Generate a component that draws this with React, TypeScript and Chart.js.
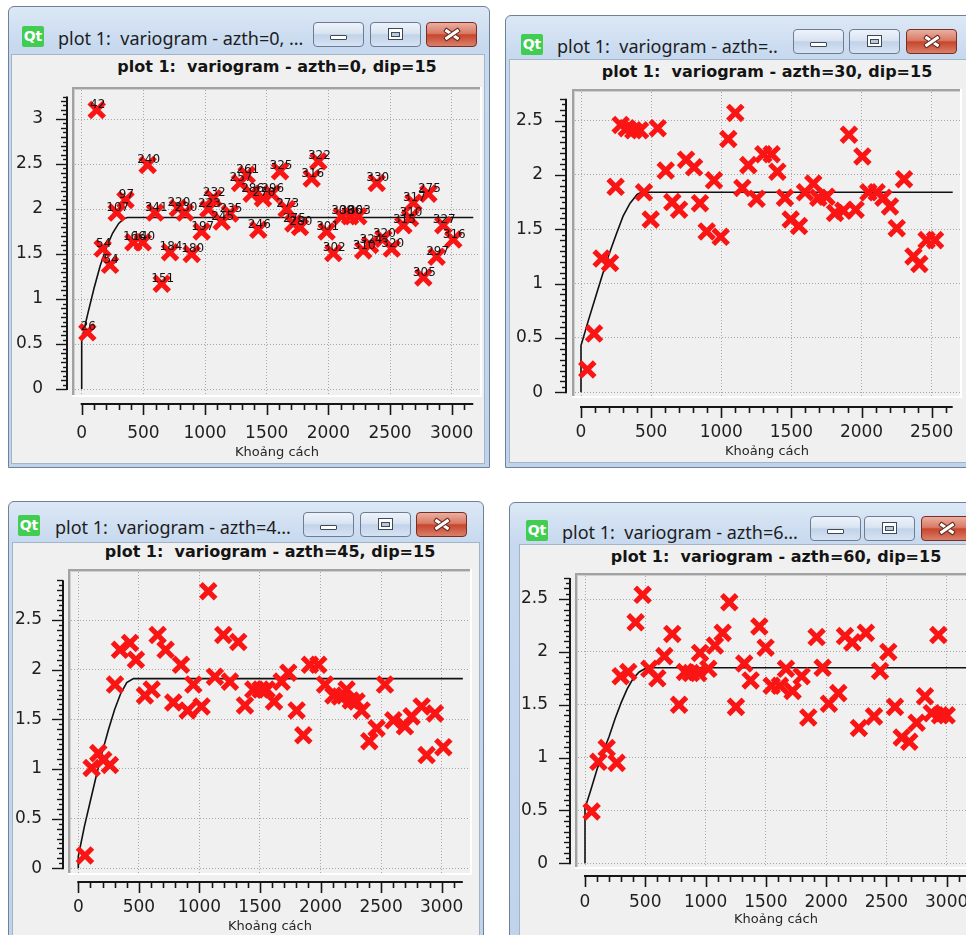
import React, { useEffect, useRef } from 'react';
import { Chart, registerables } from 'chart.js';

Chart.register(...registerables);

// ---------------- DATA ----------------
const X_TICKS_3000 = [0, 500, 1000, 1500, 2000, 2500, 3000];
const X_TICKS_2500 = [0, 500, 1000, 1500, 2000, 2500];
const Y_TICKS_3 = [0, 0.5, 1, 1.5, 2, 2.5, 3];
const Y_TICKS_25 = [0, 0.5, 1, 1.5, 2, 2.5];

// azth = 0
const AZ0_DIST = [46, 122, 170, 230, 284, 355, 419, 495, 535, 595, 649, 716, 780, 838, 892, 973, 1027, 1067, 1135, 1202, 1284, 1338, 1378, 1432, 1470, 1541, 1608, 1662, 1716, 1770, 1865, 1919, 1986, 2040, 2108, 2176, 2243, 2283, 2338, 2392, 2446, 2514, 2608, 2662, 2689, 2770, 2811, 2878, 2932, 3013];
const AZ0_GAMMA = [0.63, 3.10, 1.56, 1.38, 1.96, 2.10, 1.63, 1.63, 2.49, 1.96, 1.17, 1.52, 2.01, 1.96, 1.50, 1.75, 2.00, 2.12, 1.86, 1.95, 2.29, 2.38, 2.17, 1.77, 2.12, 2.17, 2.42, 2.00, 1.84, 1.80, 2.34, 2.53, 1.75, 1.51, 1.92, 1.92, 1.92, 1.54, 1.60, 2.29, 1.67, 1.56, 1.82, 1.90, 2.07, 1.24, 2.17, 1.47, 1.82, 1.66];
const AZ0_PAIRS = ['26', '42', '54', '54', '107', '97', '166', '140', '240', '341', '151', '184', '220', '230', '180', '197', '223', '232', '245', '235', '257', '261', '286', '246', '270', '296', '325', '273', '275', '280', '316', '322', '301', '302', '308', '306', '303', '310', '324', '330', '320', '320', '315', '310', '317', '305', '275', '297', '327', '316'];
const AZ0_MODEL_DIST = [0, 0, 50, 100, 150, 200, 250, 300, 340, 370, 3175];
const AZ0_MODEL_GAMMA = [0, 0.55, 0.84, 1.12, 1.37, 1.57, 1.73, 1.84, 1.89, 1.905, 1.905];

// azth = 30
const AZ30_DIST = [45, 93, 147, 207, 247, 283, 326, 373, 421, 449, 497, 547, 604, 651, 699, 749, 806, 848, 896, 948, 996, 1050, 1100, 1150, 1193, 1252, 1300, 1359, 1400, 1454, 1495, 1554, 1597, 1656, 1692, 1750, 1811, 1870, 1910, 1958, 2006, 2049, 2108, 2156, 2203, 2251, 2303, 2370, 2412, 2464, 2524];
const AZ30_GAMMA = [0.21, 0.54, 1.23, 1.19, 1.89, 2.46, 2.43, 2.41, 2.41, 1.84, 1.59, 2.43, 2.04, 1.75, 1.68, 2.14, 2.07, 1.74, 1.48, 1.95, 1.43, 2.33, 2.57, 1.88, 2.09, 1.78, 2.19, 2.19, 2.03, 1.79, 1.59, 1.53, 1.84, 1.92, 1.79, 1.80, 1.65, 1.67, 2.37, 1.68, 2.17, 1.84, 1.84, 1.79, 1.71, 1.51, 1.96, 1.25, 1.18, 1.40, 1.40];
const AZ30_MODEL_DIST = [0, 0, 50, 100, 150, 200, 250, 300, 350, 400, 430, 2650];
const AZ30_MODEL_GAMMA = [0, 0.43, 0.65, 0.86, 1.07, 1.27, 1.45, 1.62, 1.74, 1.82, 1.84, 1.84];

// azth = 45
const AZ45_DIST = [55, 110, 165, 206, 261, 303, 344, 427, 476, 550, 606, 655, 721, 784, 848, 903, 950, 1018, 1073, 1128, 1197, 1252, 1321, 1376, 1445, 1506, 1555, 1616, 1679, 1734, 1803, 1858, 1913, 1982, 2037, 2106, 2161, 2215, 2250, 2298, 2340, 2403, 2463, 2532, 2601, 2697, 2752, 2835, 2876, 2945, 3014];
const AZ45_GAMMA = [0.13, 1.01, 1.16, 1.09, 1.04, 1.85, 2.20, 2.27, 2.10, 1.74, 1.80, 2.35, 2.20, 1.67, 2.05, 1.59, 1.85, 1.63, 2.79, 1.93, 2.35, 1.88, 2.28, 1.64, 1.80, 1.80, 1.80, 1.68, 1.88, 1.97, 1.59, 1.34, 2.05, 2.05, 1.85, 1.74, 1.73, 1.80, 1.69, 1.68, 1.59, 1.28, 1.41, 1.85, 1.49, 1.43, 1.53, 1.63, 1.14, 1.56, 1.22];
const AZ45_MODEL_DIST = [0, 0, 50, 100, 150, 200, 250, 300, 350, 400, 455, 3175];
const AZ45_MODEL_GAMMA = [0, 0.12, 0.42, 0.68, 0.94, 1.18, 1.40, 1.60, 1.76, 1.87, 1.91, 1.91];

// azth = 60
const AZ60_DIST = [55, 111, 180, 263, 296, 359, 420, 478, 534, 600, 658, 724, 780, 829, 879, 940, 954, 1023, 1078, 1142, 1197, 1252, 1321, 1374, 1446, 1498, 1548, 1617, 1667, 1722, 1797, 1852, 1921, 1971, 2023, 2101, 2156, 2217, 2272, 2330, 2397, 2447, 2516, 2571, 2627, 2690, 2751, 2820, 2876, 2931, 2945, 3000];
const AZ60_GAMMA = [0.49, 0.96, 1.09, 0.95, 1.77, 1.81, 2.28, 2.54, 1.84, 1.75, 1.96, 2.17, 1.50, 1.81, 1.80, 1.80, 1.99, 1.84, 2.06, 2.18, 2.47, 1.48, 1.89, 1.73, 2.24, 2.04, 1.68, 1.68, 1.84, 1.63, 1.77, 1.38, 2.14, 1.85, 1.51, 1.61, 2.15, 2.09, 1.28, 2.18, 1.39, 1.82, 2.00, 1.48, 1.19, 1.15, 1.33, 1.58, 1.42, 2.16, 1.40, 1.40];
const AZ60_MODEL_DIST = [0, 0, 50, 100, 150, 200, 250, 300, 350, 400, 450, 510, 3400];
const AZ60_MODEL_GAMMA = [0, 0.52, 0.70, 0.89, 1.05, 1.20, 1.37, 1.52, 1.65, 1.75, 1.81, 1.85, 1.85];

const X_TITLE = 'Khoảng cách';

// ---------------- LAYOUT ----------------
type Layout = {
  win: { x: number; y: number; w: number; h: number };
  content: { x: number; y: number; w: number; h: number };
  area: { l: number; t: number; r: number; b: number };
  x0: number; xppu: number; y0: number; yppu: number;
  yAxisGap: number; xAxisGap: number;
  xLabelCy: number; yLabelRight: number; xTitleCy: number;
  plotTitleCy: number; btnX: number[]; btnY: number;
  iconX: number; iconY: number; textX: number; textCy: number;
};

type Panel = {
  key: string;
  winTitle: string;
  plotTitle: string;
  dist: number[];
  gamma: number[];
  pairs?: string[];
  modelDist: number[];
  modelGamma: number[];
  xTicks: number[];
  yTicks: number[];
  xAxisEnd: number;
  yAxisEnd: number;
  layout: Layout;
};

const PANELS: Panel[] = [
  {
    key: 'az0', winTitle: 'plot 1:  variogram - azth=0, ...', plotTitle: 'plot 1:  variogram - azth=0, dip=15',
    dist: AZ0_DIST, gamma: AZ0_GAMMA, pairs: AZ0_PAIRS, modelDist: AZ0_MODEL_DIST, modelGamma: AZ0_MODEL_GAMMA,
    xTicks: X_TICKS_3000, yTicks: Y_TICKS_3, xAxisEnd: 3175, yAxisEnd: 3.25,
    layout: {
      win: { x: 8, y: 6, w: 482, h: 462 }, content: { x: 12, y: 55, w: 472, h: 408 },
      area: { l: 72, t: 87, r: 482, b: 397 }, x0: 81.7, xppu: 0.12333, y0: 389, yppu: 90,
      yAxisGap: 5, xAxisGap: 7, xLabelCy: 434, yLabelRight: 43, xTitleCy: 453, plotTitleCy: 67,
      btnX: [313, 370, 426], btnY: 22, iconX: 22, iconY: 26, textX: 58, textCy: 38,
    },
  },
  {
    key: 'az30', winTitle: 'plot 1:  variogram - azth=..', plotTitle: 'plot 1:  variogram - azth=30, dip=15',
    dist: AZ30_DIST, gamma: AZ30_GAMMA, modelDist: AZ30_MODEL_DIST, modelGamma: AZ30_MODEL_GAMMA,
    xTicks: X_TICKS_2500, yTicks: Y_TICKS_25, xAxisEnd: 2650, yAxisEnd: 2.7,
    layout: {
      win: { x: 505, y: 15, w: 470, h: 453 }, content: { x: 510, y: 60, w: 460, h: 402 },
      area: { l: 572, t: 89, r: 962, b: 398 }, x0: 581, xppu: 0.14027, y0: 392.3, yppu: 108.7,
      yAxisGap: 6, xAxisGap: 9, xLabelCy: 433, yLabelRight: 543, xTitleCy: 452, plotTitleCy: 72,
      btnX: [793, 849, 906], btnY: 29, iconX: 521, iconY: 34, textX: 557, textCy: 46,
    },
  },
  {
    key: 'az45', winTitle: 'plot 1:  variogram - azth=4...', plotTitle: 'plot 1:  variogram - azth=45, dip=15',
    dist: AZ45_DIST, gamma: AZ45_GAMMA, modelDist: AZ45_MODEL_DIST, modelGamma: AZ45_MODEL_GAMMA,
    xTicks: X_TICKS_3000, yTicks: Y_TICKS_25, xAxisEnd: 3175, yAxisEnd: 2.9,
    layout: {
      win: { x: 8, y: 501, w: 476, h: 450 }, content: { x: 13, y: 543, w: 466, h: 400 },
      area: { l: 68, t: 569, r: 472, b: 875 }, x0: 78.3, xppu: 0.12111, y0: 868.3, yppu: 99.3,
      yAxisGap: 5, xAxisGap: 7, xLabelCy: 908, yLabelRight: 42, xTitleCy: 927, plotTitleCy: 552,
      btnX: [303, 360, 416], btnY: 512, iconX: 18, iconY: 515, textX: 55, textCy: 527,
    },
  },
  {
    key: 'az60', winTitle: 'plot 1:  variogram - azth=6...', plotTitle: 'plot 1:  variogram - azth=60, dip=15',
    dist: AZ60_DIST, gamma: AZ60_GAMMA, modelDist: AZ60_MODEL_DIST, modelGamma: AZ60_MODEL_GAMMA,
    xTicks: X_TICKS_3000, yTicks: Y_TICKS_25, xAxisEnd: 3400, yAxisEnd: 2.7,
    layout: {
      win: { x: 509, y: 502, w: 470, h: 450 }, content: { x: 520, y: 545, w: 470, h: 400 },
      area: { l: 575, t: 573, r: 977, b: 869 }, x0: 585, xppu: 0.12056, y0: 863.3, yppu: 105.7,
      yAxisGap: 5, xAxisGap: 7, xLabelCy: 903, yLabelRight: 548, xTitleCy: 920, plotTitleCy: 557,
      btnX: [810, 864, 921], btnY: 516, iconX: 526, iconY: 520, textX: 562, textCy: 532,
    },
  },
];

const TICK_FONT = 17;
const XTITLE_FONT = 13;
const FONT = 'DejaVu Sans';

function zeroPadding(s: any) {
  s.paddingLeft = 0;
  s.paddingRight = 0;
  s.paddingTop = 0;
  s.paddingBottom = 0;
}

function VariogramChart({ p }: { p: Panel }) {
  const ref = useRef<HTMLCanvasElement | null>(null);
  const L = p.layout;
  const c = L.content;
  const a = L.area;

  useEffect(() => {
    if (!ref.current) return;
    const xMin = (a.l - L.x0) / L.xppu;
    const xMax = (a.r - L.x0) / L.xppu;
    const yMin = (L.y0 - a.b) / L.yppu;
    const yMax = (L.y0 - a.t) / L.yppu;

    const decor = {
      id: 'qwtDecor',
      beforeDatasetsDraw(chart: any) {
        const ctx = chart.ctx;
        const ca = chart.chartArea;
        ctx.save();
        ctx.fillStyle = '#a2a2a2';
        ctx.fillRect(ca.left, ca.top, ca.right - ca.left, 2);
        ctx.fillRect(ca.left, ca.top, 2, ca.bottom - ca.top);
        ctx.fillStyle = '#cfcfcf';
        ctx.fillRect(ca.left + 2, ca.top + 2, ca.right - ca.left - 2, 1);
        ctx.fillRect(ca.left + 2, ca.top + 2, 1, ca.bottom - ca.top - 2);
        ctx.fillStyle = '#ffffff';
        ctx.fillRect(ca.left, ca.bottom - 2, ca.right - ca.left, 2);
        ctx.fillRect(ca.right - 2, ca.top, 2, ca.bottom - ca.top);
        ctx.restore();
      },
      afterDatasetsDraw(chart: any) {
        if (!p.pairs) return;
        const ctx = chart.ctx;
        const meta = chart.getDatasetMeta(0);
        ctx.save();
        ctx.font = `12px ${FONT}`;
        ctx.textAlign = 'center';
        ctx.textBaseline = 'middle';
        ctx.fillStyle = '#121212';
        meta.data.forEach((el: any, i: number) => {
          ctx.fillText(p.pairs![i], el.x + 1, el.y - 5);
        });
        ctx.restore();
      },
      afterDraw(chart: any) {
        const ctx = chart.ctx;
        const ca = chart.chartArea;
        const xs = chart.scales.x;
        const ys = chart.scales.y;
        ctx.save();
        ctx.strokeStyle = '#161616';
        // y axis backbone and ticks
        const bx = ca.left - L.yAxisGap;
        ctx.lineWidth = 2;
        ctx.beginPath();
        ctx.moveTo(bx, ys.getPixelForValue(0) + 1);
        ctx.lineTo(bx, ys.getPixelForValue(p.yAxisEnd));
        ctx.stroke();
        ctx.lineWidth = 1.4;
        const ny = Math.round(p.yAxisEnd / 0.05);
        for (let i = 0; i <= ny; i++) {
          const py = Math.round(ys.getPixelForValue(i * 0.05)) + 0.5;
          const len = i % 10 === 0 ? 11 : i % 2 === 0 ? 6 : 4;
          ctx.beginPath();
          ctx.moveTo(bx, py);
          ctx.lineTo(bx - len, py);
          ctx.stroke();
        }
        // x axis backbone and ticks
        const by = ca.bottom + L.xAxisGap;
        ctx.lineWidth = 2;
        ctx.beginPath();
        ctx.moveTo(xs.getPixelForValue(0) - 1, by);
        ctx.lineTo(xs.getPixelForValue(p.xAxisEnd), by);
        ctx.stroke();
        ctx.lineWidth = 1.6;
        const nx = Math.floor(p.xAxisEnd / 100);
        for (let i = 0; i <= nx; i++) {
          const px = Math.round(xs.getPixelForValue(i * 100)) + 0.5;
          const len = i % 5 === 0 ? 11 : 6;
          ctx.beginPath();
          ctx.moveTo(px, by);
          ctx.lineTo(px, by + len);
          ctx.stroke();
        }
        ctx.restore();
      },
    };

    const chart = new Chart(ref.current, {
      type: 'scatter',
      data: {
        datasets: [
          {
            data: p.dist.map((d, i) => ({ x: d, y: p.gamma[i] })),
            pointStyle: 'crossRot',
            pointRadius: 10.5,
            pointBorderWidth: 5.2,
            pointBorderColor: '#fa1414',
            pointBackgroundColor: '#fa1414',
            showLine: false,
          } as any,
          {
            data: p.modelDist.map((d, i) => ({ x: d, y: p.modelGamma[i] })),
            showLine: true,
            pointRadius: 0,
            borderColor: '#111111',
            borderWidth: 1.6,
            tension: 0,
            fill: false,
          } as any,
        ],
      },
      options: {
        animation: false,
        responsive: false,
        maintainAspectRatio: false,
        devicePixelRatio: 1,
        events: [],
        layout: {
          autoPadding: false,
          padding: { left: 0, top: a.t - c.y, right: c.x + c.w - a.r, bottom: 0 },
        },
        plugins: {
          legend: { display: false },
          tooltip: { enabled: false },
          title: { display: false },
        },
        scales: {
          x: {
            type: 'linear',
            position: 'bottom',
            min: xMin,
            max: xMax,
            afterBuildTicks: (s: any) => { s.ticks = p.xTicks.map((v) => ({ value: v })); },
            afterFit: (s: any) => { s.height = c.y + c.h - a.b; zeroPadding(s); },
            grid: { color: '#a6a6a6', lineWidth: 1, drawTicks: false, borderDash: [1, 2] } as any,
            border: { display: false, dash: [1, 2] },
            ticks: {
              autoSkip: false,
              maxRotation: 0,
              color: '#1e1e1e',
              font: { family: FONT, size: TICK_FONT },
              padding: L.xLabelCy - a.b - (TICK_FONT * 1.2) / 2,
              callback: (v: any) => String(v),
            },
            title: {
              display: true,
              text: X_TITLE,
              color: '#262626',
              font: { family: FONT, size: XTITLE_FONT },
              padding: { top: 0, bottom: c.y + c.h - L.xTitleCy - (XTITLE_FONT * 1.2) / 2 },
            },
          },
          y: {
            type: 'linear',
            position: 'left',
            min: yMin,
            max: yMax,
            afterBuildTicks: (s: any) => { s.ticks = p.yTicks.map((v) => ({ value: v })); },
            afterFit: (s: any) => { s.width = a.l - c.x; zeroPadding(s); },
            grid: { color: '#a6a6a6', lineWidth: 1, drawTicks: false, borderDash: [1, 2] } as any,
            border: { display: false, dash: [1, 2] },
            ticks: {
              autoSkip: false,
              color: '#1e1e1e',
              font: { family: FONT, size: TICK_FONT },
              padding: a.l - L.yLabelRight,
              callback: (v: any) => String(v),
            },
          },
        },
      } as any,
      plugins: [decor],
    });
    return () => chart.destroy();
  }, []);

  return (
    <canvas
      ref={ref}
      width={c.w}
      height={c.h}
      style={{ position: 'absolute', left: c.x, top: c.y, width: c.w, height: c.h }}
    />
  );
}

const btnBase: React.CSSProperties = {
  position: 'absolute',
  width: 51,
  height: 25,
  borderRadius: 4,
  boxSizing: 'border-box',
  border: '1px solid #6b7c93',
  background: 'linear-gradient(to bottom, #eef3fa 0%, #d9e4f2 45%, #c2d2e8 52%, #d6e3f3 100%)',
};

function WindowChrome({ p }: { p: Panel }) {
  const L = p.layout;
  const c = L.content;
  const a = L.area;
  return (
    <>
      <div
        style={{
          position: 'absolute', left: L.win.x, top: L.win.y, width: L.win.w, height: L.win.h,
          boxSizing: 'border-box', border: '1px solid #6f8099', borderRadius: '6px 6px 0 0',
          background: 'linear-gradient(to bottom, #dce8f5 0px, #c7d9ef 40px, #bfd3eb 100%)',
        }}
      />
      <div
        style={{
          position: 'absolute', left: c.x - 1, top: c.y - 1, width: c.w + 2, height: c.h + 2,
          boxSizing: 'border-box', background: '#f0f0f0', border: '1px solid #a3b3c8',
        }}
      />
      <div
        style={{
          position: 'absolute', left: L.iconX, top: L.iconY, width: 22, height: 21,
          background: '#41cd52', color: '#fff', borderRadius: 2, fontFamily: FONT,
          fontWeight: 'bold', fontSize: 14, lineHeight: '21px', textAlign: 'center',
        }}
      >
        Qt
      </div>
      <div
        style={{
          position: 'absolute', left: L.textX, top: L.textCy - 12, height: 24, lineHeight: '24px',
          fontFamily: 'Noto Sans', fontSize: 18, color: '#1d1d1d', whiteSpace: 'pre',
        }}
      >
        {p.winTitle}
      </div>
      <div style={{ ...btnBase, left: L.btnX[0], top: L.btnY }}>
        <div
          style={{
            position: 'absolute', left: 16, top: 12, width: 17, height: 5, boxSizing: 'border-box',
            background: '#fff', border: '1px solid #3d4859', borderRadius: 1,
          }}
        />
      </div>
      <div style={{ ...btnBase, left: L.btnX[1], top: L.btnY }}>
        <div
          style={{
            position: 'absolute', left: 17, top: 5, width: 15, height: 12, boxSizing: 'border-box',
            background: '#fff', border: '1px solid #3d4859',
          }}
        >
          <div
            style={{
              position: 'absolute', left: 2, top: 3, width: 9, height: 5, boxSizing: 'border-box',
              background: '#b9c8dc', border: '1px solid #3d4859',
            }}
          />
        </div>
      </div>
      <div
        style={{
          ...btnBase, left: L.btnX[2], top: L.btnY, border: '1px solid #7b2d22',
          background: 'linear-gradient(to bottom, #eab0a2 0%, #d97a64 45%, #c8452d 52%, #d9806a 100%)',
        }}
      >
        <div
          style={{
            position: 'absolute', left: 16, top: 9, width: 18, height: 5, background: '#fff',
            border: '1px solid #6a2a20', boxSizing: 'border-box', transform: 'rotate(35deg)', borderRadius: 1,
          }}
        />
        <div
          style={{
            position: 'absolute', left: 16, top: 9, width: 18, height: 5, background: '#fff',
            border: '1px solid #6a2a20', boxSizing: 'border-box', transform: 'rotate(-35deg)', borderRadius: 1,
          }}
        />
      </div>
      <div
        style={{
          position: 'absolute', left: a.l, top: L.plotTitleCy - 11, width: a.r - a.l, height: 22,
          lineHeight: '22px', textAlign: 'center', fontFamily: FONT, fontWeight: 'bold',
          fontSize: 16, color: '#141414', whiteSpace: 'pre',
        }}
      >
        {p.plotTitle}
      </div>
      <VariogramChart p={p} />
    </>
  );
}

export default function App() {
  return (
    <div
      style={{
        position: 'fixed', left: 0, top: 0, width: 966, height: 935, overflow: 'hidden',
        background: '#ffffff', fontFamily: FONT,
      }}
    >
      {PANELS.map((p) => (
        <WindowChrome key={p.key} p={p} />
      ))}
    </div>
  );
}
